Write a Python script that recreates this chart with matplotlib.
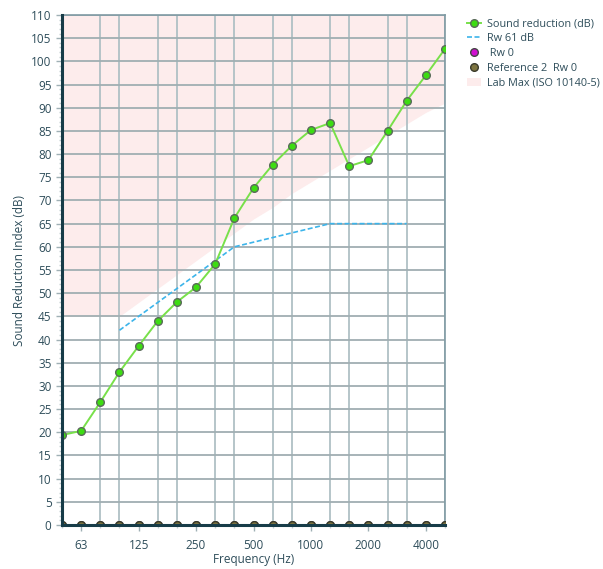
import matplotlib
matplotlib.use("Agg")
import matplotlib.pyplot as plt
from matplotlib.ticker import MultipleLocator, FixedLocator
from matplotlib.patches import Patch
from matplotlib.lines import Line2D

plt.rcParams['font.family'] = ['Open Sans', 'DejaVu Sans']

bands = ["50", "63", "80", "100", "125", "160", "200", "250", "315", "400", "500",
         "630", "800", "1000", "1250", "1600", "2000", "2500", "3150", "4000", "5000"]
sound_reduction = [19.4, 20.3, 26.5, 33.0, 38.6, 44.0, 48.1, 51.3, 56.3, 66.2, 72.7,
                   77.7, 81.8, 85.2, 86.7, 77.4, 78.7, 85.0, 91.5, 97.0, 102.7]
rw_bands = ["100", "125", "160", "200", "250", "315", "400", "500", "630", "800",
            "1000", "1250", "1600", "2000", "2500", "3150"]
rw61_curve = [42, 45, 48, 51, 54, 57, 60, 61, 62, 63, 64, 65, 65, 65, 65, 65]
lab_max = [45, 45, 45, 45, 48, 51, 54, 57, 60, 63, 66, 68.5, 71.5, 74, 76.5, 79,
           81.5, 84, 86.5, 89, 91]
rw0 = [0] * len(bands)
ref2_rw0 = [0] * len(bands)
tick_labels = ["63", "125", "250", "500", "1000", "2000", "4000"]

x = list(range(len(bands)))
xr = [bands.index(b) for b in rw_bands]
tick_pos = [bands.index(t) for t in tick_labels]

fig = plt.figure(figsize=(6.03, 5.69), dpi=100)
ax = fig.add_axes([62/603, 44/569, (445-62)/603, (525-15)/569])

txt = "#2e4d5a"
ax.fill_between(x, lab_max, 110, color="#fdecec", lw=0, zorder=0)

ax.set_xlim(0, len(bands) - 1)
ax.set_ylim(0, 110)
ax.xaxis.set_major_locator(FixedLocator(tick_pos))
ax.set_xticklabels(tick_labels)
ax.xaxis.set_minor_locator(FixedLocator(x))
ax.yaxis.set_major_locator(MultipleLocator(5))
ax.yaxis.set_minor_locator(MultipleLocator(1))

ax.grid(True, which="minor", axis="x", color="#b0c0c5", lw=1.3, zorder=1)
ax.grid(True, which="major", axis="y", color="#a0aeb2", lw=1.3, zorder=1)

ax.plot(xr, rw61_curve, ls=(0, (3, 1.5)), color="#3cb4ea", lw=1.2, zorder=3)
ax.plot(x, sound_reduction, color="#78e04a", lw=1.4, marker="o", ms=5.5,
        mfc="#3ddc12", mec="#5a6a5a", mew=1.0, zorder=4)
ax.plot(x, rw0, ls="none", marker="o", ms=5.5, mfc="#d010d0", mec="#444", zorder=4)
ax.plot(x, ref2_rw0, ls="none", marker="o", ms=5.5, mfc="#7d7440", mec="#3a3a2a",
        mew=1.0, zorder=4)

for side in ["left", "bottom"]:
    ax.spines[side].set_color("#173c48")
    ax.spines[side].set_linewidth(2.2)
for side in ["top", "right"]:
    ax.spines[side].set_color("#7f9aa3")
    ax.spines[side].set_linewidth(1.2)
ax.spines["left"].set_zorder(5)
ax.spines["bottom"].set_zorder(5)

ax.tick_params(axis="both", which="major", labelsize=8.5, labelcolor=txt, color="#9fb0b5",
               length=4, width=1)
ax.tick_params(axis="both", which="minor", color="#c5d0d3", length=2.5, width=1)
ax.tick_params(axis="x", which="major", pad=6)

ax.set_xlabel("Frequency (Hz)", fontsize=8.5, color=txt, labelpad=1)
ax.set_ylabel("Sound Reduction Index (dB)", fontsize=8.5, color=txt, labelpad=4)

handles = [
    Line2D([], [], color="#78e04a", lw=1.4, marker="o", ms=5.5, mfc="#3ddc12", mec="#5a6a5a"),
    Line2D([], [], color="#3cb4ea", lw=1.2, ls=(0, (3, 1.5))),
    Line2D([], [], ls="none", marker="o", ms=5.5, mfc="#d010d0", mec="#444"),
    Line2D([], [], ls="none", marker="o", ms=5.5, mfc="#7d7440", mec="#3a3a2a"),
    Patch(facecolor="#fdecec", edgecolor="none"),
]
labels = ["Sound reduction (dB)", "Rw 61 dB", " Rw 0", "Reference 2  Rw 0",
          "Lab Max (ISO 10140-5)"]
fig.legend(handles, labels, loc="upper left", bbox_to_anchor=(463/603, 1 - 14/569),
           frameon=False, fontsize=7.8, handlelength=1.3, handletextpad=0.5,
           labelspacing=0.35, borderaxespad=0, labelcolor=txt)

fig.savefig("out.png", dpi=100)
